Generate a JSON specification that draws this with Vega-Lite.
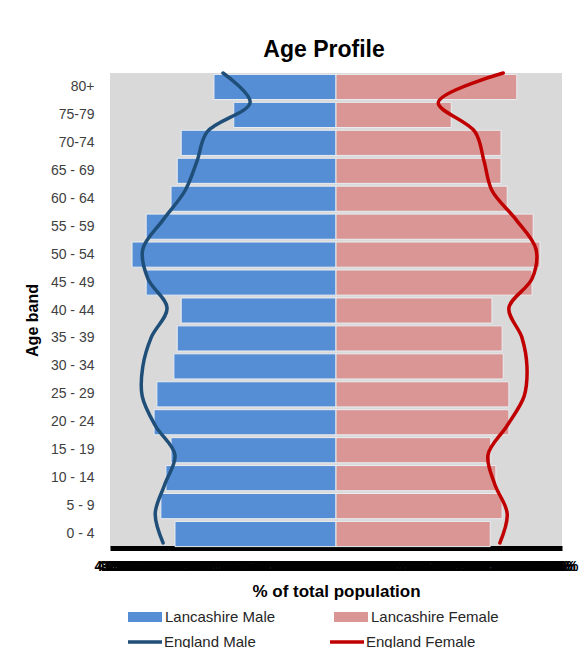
{
  "$schema": "https://vega.github.io/schema/vega-lite/v6.json",
  "autosize": "none",
  "width": 452,
  "height": 475,
  "padding": {"left": 110, "top": 73, "right": 25, "bottom": 100},
  "background": "white",
  "title": {"text": "Age Profile", "fontSize": 23, "fontWeight": "bold", "color": "#000000", "anchor": "middle", "baseline": "alphabetic", "offset": 16, "dx": -12, "dy": 30},
  "datasets": {
    "bars": [
      {"age": "80+", "series": "Lancashire Male", "value": -2.16},
      {"age": "75-79", "series": "Lancashire Male", "value": -1.81},
      {"age": "70-74", "series": "Lancashire Male", "value": -2.74},
      {"age": "65 - 69", "series": "Lancashire Male", "value": -2.81},
      {"age": "60 - 64", "series": "Lancashire Male", "value": -2.92},
      {"age": "55 - 59", "series": "Lancashire Male", "value": -3.36},
      {"age": "50 - 54", "series": "Lancashire Male", "value": -3.61},
      {"age": "45 - 49", "series": "Lancashire Male", "value": -3.36},
      {"age": "40 - 44", "series": "Lancashire Male", "value": -2.74},
      {"age": "35 - 39", "series": "Lancashire Male", "value": -2.81},
      {"age": "30 - 34", "series": "Lancashire Male", "value": -2.87},
      {"age": "25 - 29", "series": "Lancashire Male", "value": -3.17},
      {"age": "20 - 24", "series": "Lancashire Male", "value": -3.22},
      {"age": "15 - 19", "series": "Lancashire Male", "value": -2.92},
      {"age": "10 - 14", "series": "Lancashire Male", "value": -3.01},
      {"age": "5 - 9", "series": "Lancashire Male", "value": -3.10},
      {"age": "0 - 4", "series": "Lancashire Male", "value": -2.85},
      {"age": "80+", "series": "Lancashire Female", "value": 3.20},
      {"age": "75-79", "series": "Lancashire Female", "value": 2.04},
      {"age": "70-74", "series": "Lancashire Female", "value": 2.92},
      {"age": "65 - 69", "series": "Lancashire Female", "value": 2.92},
      {"age": "60 - 64", "series": "Lancashire Female", "value": 3.03},
      {"age": "55 - 59", "series": "Lancashire Female", "value": 3.49},
      {"age": "50 - 54", "series": "Lancashire Female", "value": 3.61},
      {"age": "45 - 49", "series": "Lancashire Female", "value": 3.47},
      {"age": "40 - 44", "series": "Lancashire Female", "value": 2.76},
      {"age": "35 - 39", "series": "Lancashire Female", "value": 2.94},
      {"age": "30 - 34", "series": "Lancashire Female", "value": 2.96},
      {"age": "25 - 29", "series": "Lancashire Female", "value": 3.06},
      {"age": "20 - 24", "series": "Lancashire Female", "value": 3.06},
      {"age": "15 - 19", "series": "Lancashire Female", "value": 2.74},
      {"age": "10 - 14", "series": "Lancashire Female", "value": 2.83},
      {"age": "5 - 9", "series": "Lancashire Female", "value": 2.94},
      {"age": "0 - 4", "series": "Lancashire Female", "value": 2.73}
    ],
    "lines": [
      {"age": "80+", "idx": 0, "series": "England Male", "value": -2.00},
      {"age": "75-79", "idx": 1, "series": "England Male", "value": -1.52},
      {"age": "70-74", "idx": 2, "series": "England Male", "value": -2.28},
      {"age": "65 - 69", "idx": 3, "series": "England Male", "value": -2.46},
      {"age": "60 - 64", "idx": 4, "series": "England Male", "value": -2.67},
      {"age": "55 - 59", "idx": 5, "series": "England Male", "value": -3.06},
      {"age": "50 - 54", "idx": 6, "series": "England Male", "value": -3.42},
      {"age": "45 - 49", "idx": 7, "series": "England Male", "value": -3.33},
      {"age": "40 - 44", "idx": 8, "series": "England Male", "value": -2.99},
      {"age": "35 - 39", "idx": 9, "series": "England Male", "value": -3.27},
      {"age": "30 - 34", "idx": 10, "series": "England Male", "value": -3.42},
      {"age": "25 - 29", "idx": 11, "series": "England Male", "value": -3.43},
      {"age": "20 - 24", "idx": 12, "series": "England Male", "value": -3.20},
      {"age": "15 - 19", "idx": 13, "series": "England Male", "value": -2.85},
      {"age": "10 - 14", "idx": 14, "series": "England Male", "value": -3.03},
      {"age": "5 - 9", "idx": 15, "series": "England Male", "value": -3.20},
      {"age": "0 - 4", "idx": 16, "series": "England Male", "value": -3.06},
      {"age": "80+", "idx": 0, "series": "England Female", "value": 2.96},
      {"age": "75-79", "idx": 1, "series": "England Female", "value": 1.81},
      {"age": "70-74", "idx": 2, "series": "England Female", "value": 2.46},
      {"age": "65 - 69", "idx": 3, "series": "England Female", "value": 2.62},
      {"age": "60 - 64", "idx": 4, "series": "England Female", "value": 2.76},
      {"age": "55 - 59", "idx": 5, "series": "England Female", "value": 3.19},
      {"age": "50 - 54", "idx": 6, "series": "England Female", "value": 3.54},
      {"age": "45 - 49", "idx": 7, "series": "England Female", "value": 3.47},
      {"age": "40 - 44", "idx": 8, "series": "England Female", "value": 3.06},
      {"age": "35 - 39", "idx": 9, "series": "England Female", "value": 3.29},
      {"age": "30 - 34", "idx": 10, "series": "England Female", "value": 3.38},
      {"age": "25 - 29", "idx": 11, "series": "England Female", "value": 3.33},
      {"age": "20 - 24", "idx": 12, "series": "England Female", "value": 3.03},
      {"age": "15 - 19", "idx": 13, "series": "England Female", "value": 2.69},
      {"age": "10 - 14", "idx": 14, "series": "England Female", "value": 2.81},
      {"age": "5 - 9", "idx": 15, "series": "England Female", "value": 3.03},
      {"age": "0 - 4", "idx": 16, "series": "England Female", "value": 2.90}
    ]
  },
  "layer": [
    {
      "data": {"name": "bars"},
      "mark": {"type": "bar", "stroke": "#e9edf2", "strokeWidth": 1},
      "encoding": {
        "y": {
          "field": "age", "type": "nominal",
          "sort": ["80+", "75-79", "70-74", "65 - 69", "60 - 64", "55 - 59", "50 - 54", "45 - 49", "40 - 44", "35 - 39", "30 - 34", "25 - 29", "20 - 24", "15 - 19", "10 - 14", "5 - 9", "0 - 4"],
          "scale": {"paddingInner": 0.1, "paddingOuter": 0.05},
          "axis": {
            "title": "Age band", "titleFontSize": 16, "titleFontWeight": "bold", "titleColor": "#000000",
            "titleX": -70, "titleY": 247,
            "labelFontSize": 14, "labelColor": "#404040", "labelPadding": 16,
            "ticks": false, "domain": false
          }
        },
        "x": {
          "field": "value", "type": "quantitative",
          "scale": {"domain": [-4, 4], "nice": false, "zero": false},
          "axis": {
            "title": "% of total population", "titleFontSize": 17, "titleFontWeight": "bold", "titleColor": "#000000",
            "titleBaseline": "top", "titleY": 35,
            "tickCount": 160, "labelOverlap": false, "labelFlush": false, "labelBound": false,
            "labelExpr": "format(abs(datum.value), '.1f') + '%'",
            "labelFontSize": 14, "labelFontWeight": "bold", "labelColor": "#000000", "labelPadding": 11,
            "ticks": false, "grid": false,
            "domain": true, "domainColor": "#000000", "domainWidth": 5
          }
        },
        "fill": {
          "field": "series", "type": "nominal",
          "scale": {
            "domain": ["Lancashire Male", "Lancashire Female"],
            "range": ["#558ED5", "#D99694"]
          },
          "legend": {
            "title": null, "orient": "none", "legendX": 18, "legendY": 527,
            "direction": "horizontal", "columnPadding": 58, "padding": 0,
            "labelFontSize": 15, "labelColor": "#262626", "labelOffset": 3,
            "symbolType": "M-1,-0.3H1V0.3H-1Z", "symbolSize": 1156, "symbolStrokeWidth": 0, "labelLimit": 300
          }
        }
      }
    },
    {
      "data": {"name": "lines"},
      "mark": {"type": "line", "interpolate": "catmull-rom", "strokeWidth": 3.5, "strokeCap": "round"},
      "encoding": {
        "y": {
          "field": "age", "type": "nominal",
          "sort": ["80+", "75-79", "70-74", "65 - 69", "60 - 64", "55 - 59", "50 - 54", "45 - 49", "40 - 44", "35 - 39", "30 - 34", "25 - 29", "20 - 24", "15 - 19", "10 - 14", "5 - 9", "0 - 4"],
          "scale": {"type": "point", "padding": 0, "range": [0, 470]},
          "axis": null
        },
        "x": {"field": "value", "type": "quantitative"},
        "order": {"field": "idx", "type": "quantitative"},
        "stroke": {
          "field": "series", "type": "nominal",
          "scale": {
            "domain": ["England Male", "England Female"],
            "range": ["#1F4E79", "#C00000"]
          },
          "legend": {
            "title": null, "orient": "none", "legendX": 16, "legendY": 550,
            "direction": "horizontal", "columnPadding": 67, "padding": 0,
            "labelFontSize": 15, "labelColor": "#262626", "labelOffset": 0,
            "symbolType": "stroke", "symbolSize": 1156, "symbolStrokeWidth": 3.5, "labelLimit": 300
          }
        }
      }
    }
  ],
  "resolve": {"scale": {"y": "independent"}},
  "config": {
    "font": "Liberation Sans",
    "view": {"fill": "#d9d9d9", "stroke": null}
  }
}
